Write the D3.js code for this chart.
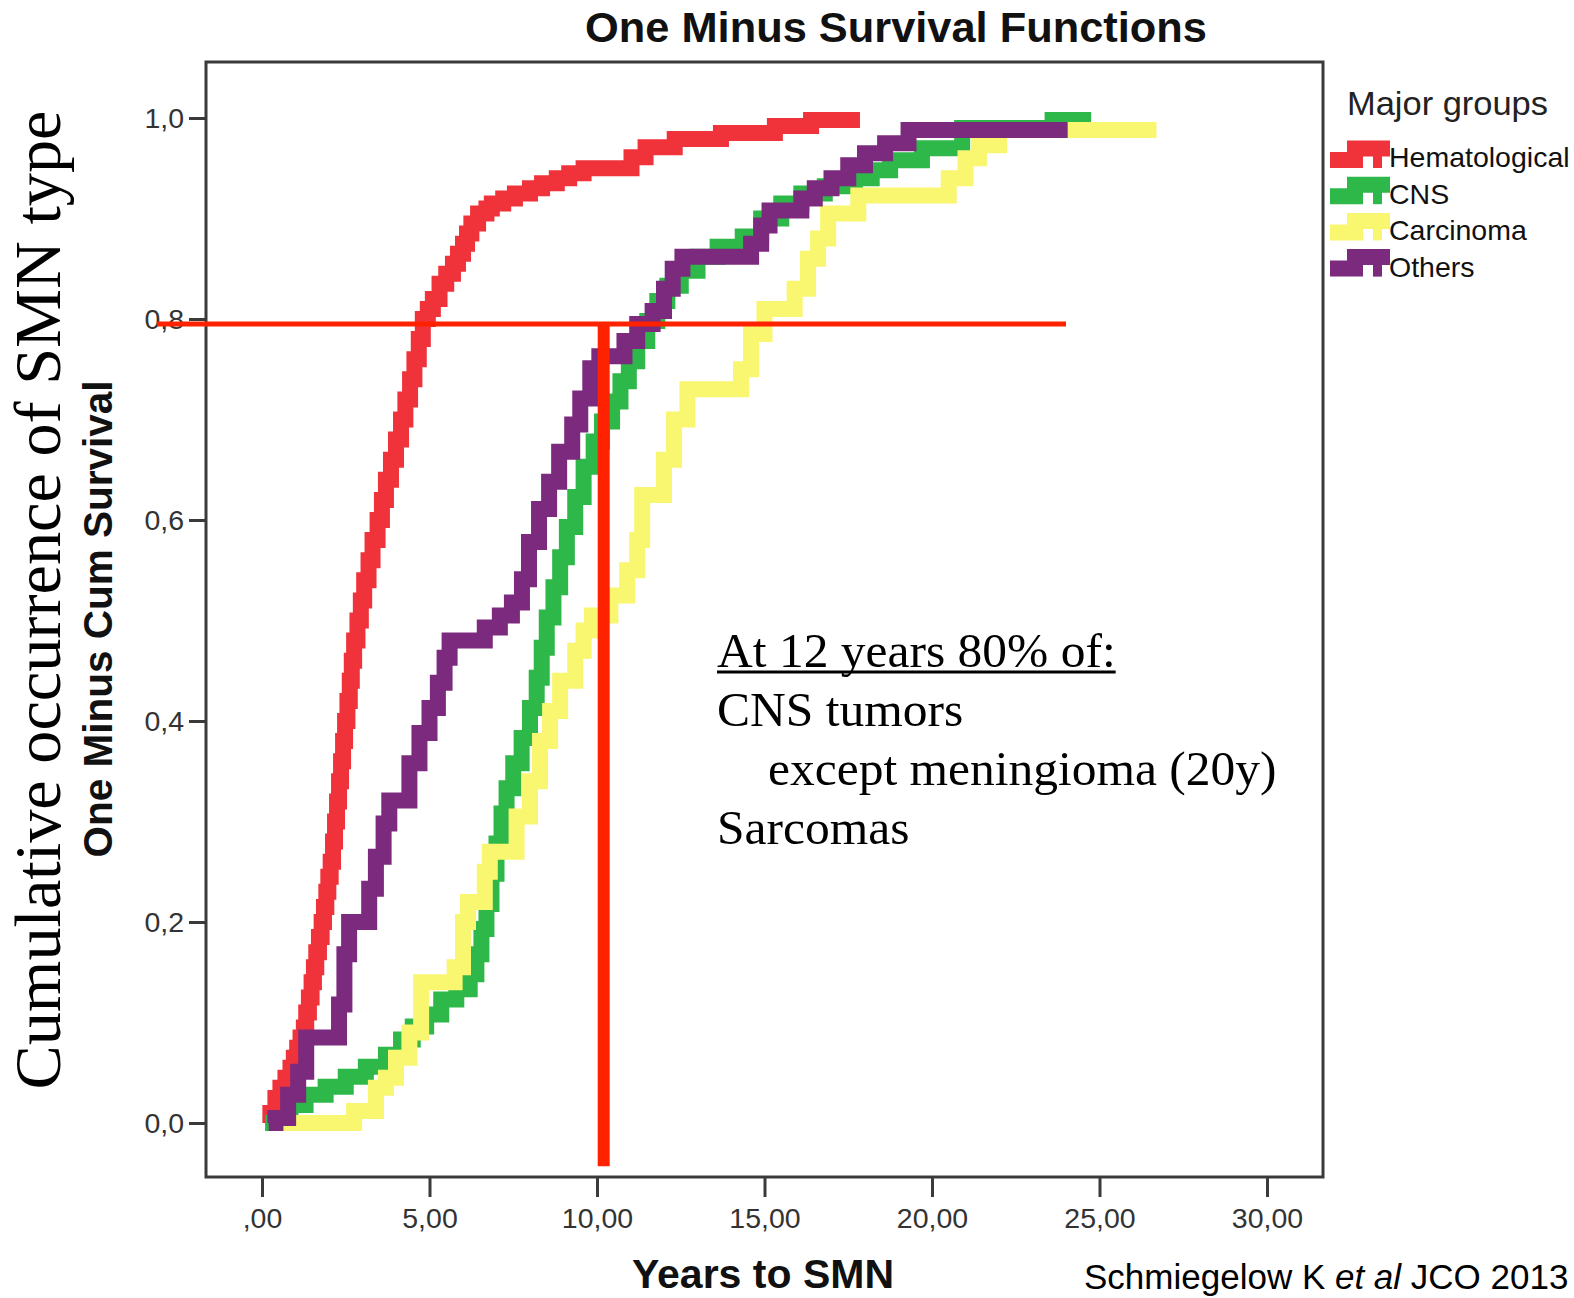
<!DOCTYPE html>
<html>
<head>
<meta charset="utf-8">
<script src="https://cdn.jsdelivr.net/npm/d3@7"></script>
<style>
  html, body { margin: 0; padding: 0; background: #fff; overflow: hidden; }
  svg { display: block; }
</style>
</head>
<body>
<svg id="chart" width="1574" height="1298"></svg>
<script>
// ---- Data: one-minus-survival step curves per major group (years, cumulative value)
const groups = ["Hematological", "CNS", "Carcinoma", "Others"];
const groupColors = ["#f0333b", "#2fb84a", "#f9f66f", "#7c2a7d"];

const hematoYears = [0.1,0.25,0.4,0.55,0.7,0.85,0.95,1.05,1.15,1.25,1.32,1.4,1.48,1.55,1.62,1.7,1.78,1.85,1.92,1.98,2.05,2.12,2.18,2.24,2.3,2.36,2.42,2.48,2.55,2.62,2.68,2.75,2.85,2.95,3.05,3.18,3.3,3.45,3.58,3.7,3.85,4.0,4.15,4.28,4.42,4.55,4.68,4.8,4.95,5.1,5.3,5.5,5.7,5.85,6.0,6.12,6.25,6.45,6.7,6.86,7.2,7.55,8.0,8.36,8.8,9.17,9.6,11.03,11.45,12.32,13.7,15.31,16.39];
const hematoValues = [0,0.01,0.025,0.035,0.045,0.055,0.065,0.075,0.085,0.095,0.11,0.125,0.14,0.155,0.17,0.185,0.2,0.215,0.23,0.245,0.26,0.28,0.3,0.32,0.34,0.36,0.38,0.4,0.42,0.44,0.46,0.48,0.5,0.52,0.54,0.56,0.58,0.6,0.62,0.64,0.66,0.68,0.7,0.72,0.74,0.76,0.78,0.8,0.81,0.82,0.835,0.845,0.855,0.865,0.875,0.885,0.895,0.905,0.91,0.915,0.92,0.925,0.93,0.935,0.94,0.945,0.95,0.961,0.971,0.979,0.985,0.992,0.998];
const hematoEnd = 17.85;

const cnsYears = [0.1,0.85,1.3,1.9,2.5,3.1,3.7,4.15,4.5,4.9,5.35,5.8,6.2,6.4,6.55,6.7,6.85,7.0,7.15,7.3,7.5,7.75,8.0,8.2,8.35,8.5,8.7,8.9,9.1,9.35,9.6,9.9,10.15,10.45,10.7,10.95,11.2,11.5,11.8,12.1,12.5,13.0,13.6,14.35,14.9,15.5,16.1,16.8,17.7,18.2,18.75,19.7,20.9,23.6];
const cnsValues = [0,0.018,0.028,0.036,0.046,0.056,0.068,0.083,0.096,0.108,0.123,0.133,0.148,0.168,0.193,0.218,0.248,0.278,0.308,0.333,0.358,0.383,0.413,0.443,0.473,0.503,0.533,0.563,0.593,0.623,0.653,0.678,0.698,0.718,0.738,0.758,0.778,0.798,0.818,0.833,0.848,0.862,0.872,0.882,0.9,0.915,0.925,0.932,0.94,0.948,0.958,0.97,0.99,0.998];
const cnsEnd = 24.75;

const carcinomaYears = [0.3,2.75,3.4,3.7,4.0,4.4,4.75,5.75,6.0,6.15,6.65,6.8,7.6,8.0,8.3,8.6,8.9,9.35,9.6,9.85,10.4,10.9,11.2,11.35,12.0,12.3,12.7,14.3,14.6,15.0,15.9,16.3,16.6,16.9,17.8,20.5,21.0,21.4,22.0];
const carcinomaValues = [0,0.012,0.035,0.045,0.065,0.09,0.14,0.155,0.2,0.22,0.25,0.27,0.305,0.34,0.38,0.41,0.44,0.47,0.49,0.505,0.525,0.55,0.58,0.625,0.66,0.7,0.73,0.75,0.785,0.81,0.83,0.86,0.88,0.905,0.923,0.94,0.96,0.973,0.988];
const carcinomaEnd = 26.7;

const othersYears = [0.2,0.4,0.78,1.08,1.32,2.3,2.46,2.6,3.2,3.4,3.63,3.8,4.4,4.7,5.0,5.25,5.45,5.6,6.65,7.1,7.46,7.76,7.97,8.27,8.57,8.87,9.26,9.5,9.8,10.07,10.82,11.2,11.66,12.0,12.26,12.55,14.6,14.9,15.15,16.1,16.5,17.0,17.5,18.0,18.6,19.3];
const othersValues = [0,0.005,0.028,0.051,0.085,0.118,0.168,0.2,0.233,0.265,0.298,0.321,0.358,0.388,0.413,0.438,0.463,0.48,0.493,0.505,0.518,0.541,0.578,0.611,0.638,0.668,0.695,0.721,0.751,0.763,0.778,0.795,0.808,0.83,0.85,0.862,0.875,0.893,0.908,0.92,0.93,0.94,0.953,0.965,0.975,0.988];
const othersEnd = 24.05;

// ---- Axis ticks
const xTicks = [0, 5, 10, 15, 20, 25, 30];
const xTickLabels = [",00", "5,00", "10,00", "15,00", "20,00", "25,00", "30,00"];
const yTicks = [0, 0.2, 0.4, 0.6, 0.8, 1.0];
const yTickLabels = ["0,0", "0,2", "0,4", "0,6", "0,8", "1,0"];

// ---- Reference guide: 80% level and ~10 years
const guideLevel = 0.795;
const guideFromYear = -3.13;
const guideToYear = 24.0;
const guideYear = 10.2;
const guideBottom = -0.043;

// ---- Annotation text
const noteLines = ["At 12 years 80% of:", "CNS tumors", "except meningioma (20y)", "Sarcomas"];

// ---- Layout
const frame = { left: 206, top: 62, right: 1323, bottom: 1177 };
const x = d3.scaleLinear().domain([0, 30]).range([262, 1267]);
const y = d3.scaleLinear().domain([0, 1]).range([1123, 118]);

const svg = d3.select("#chart");
const sans = "'Liberation Sans', Arial, sans-serif";
const serif = "'Liberation Serif', 'Times New Roman', serif";

// Plot frame
svg.append("rect")
  .attr("x", frame.left).attr("y", frame.top)
  .attr("width", frame.right - frame.left).attr("height", frame.bottom - frame.top)
  .attr("fill", "none").attr("stroke", "#3a3a3a").attr("stroke-width", 3);

// Y axis
const yAxis = svg.append("g")
  .attr("transform", `translate(${frame.left},0)`)
  .call(d3.axisLeft(y).tickValues(yTicks)
    .tickFormat((d, i) => yTickLabels[i]).tickSize(17).tickPadding(5));
yAxis.select(".domain").remove();
yAxis.selectAll(".tick line").attr("stroke", "#3a3a3a").attr("stroke-width", 3);
yAxis.selectAll(".tick text").attr("font-family", sans).attr("font-size", 28.5).attr("fill", "#333");

// X axis
const xAxis = svg.append("g")
  .attr("transform", `translate(0,${frame.bottom})`)
  .call(d3.axisBottom(x).tickValues(xTicks)
    .tickFormat((d, i) => xTickLabels[i]).tickSize(20).tickPadding(11));
xAxis.select(".domain").remove();
xAxis.selectAll(".tick line").attr("stroke", "#3a3a3a").attr("stroke-width", 3);
xAxis.selectAll(".tick text").attr("font-family", sans).attr("font-size", 28.5).attr("fill", "#333");

// Step curves
const seriesData = [
  { years: hematoYears, values: hematoValues, end: hematoEnd },
  { years: cnsYears, values: cnsValues, end: cnsEnd },
  { years: carcinomaYears, values: carcinomaValues, end: carcinomaEnd },
  { years: othersYears, values: othersValues, end: othersEnd }
];
const stepLine = d3.line()
  .x(d => x(d.t)).y(d => y(d.v))
  .curve(d3.curveStepAfter);

seriesData.forEach((s, i) => {
  const pts = s.years.map((t, j) => ({ t, v: s.values[j] }));
  pts.push({ t: s.end, v: s.values[s.values.length - 1] });
  svg.append("path")
    .datum(pts)
    .attr("d", stepLine)
    .attr("fill", "none")
    .attr("stroke", groupColors[i])
    .attr("stroke-width", 16)
    .attr("stroke-linejoin", "miter")
    .attr("stroke-linecap", "butt");
});

// Guide lines
svg.append("line")
  .attr("x1", x(guideFromYear)).attr("x2", x(guideToYear))
  .attr("y1", y(guideLevel)).attr("y2", y(guideLevel))
  .attr("stroke", "#ff2200").attr("stroke-width", 5);
svg.append("line")
  .attr("x1", x(guideYear)).attr("x2", x(guideYear))
  .attr("y1", y(guideLevel) - 2).attr("y2", y(guideBottom))
  .attr("stroke", "#ff2200").attr("stroke-width", 12);

// Titles
svg.append("text")
  .attr("x", 896).attr("y", 42)
  .attr("text-anchor", "middle")
  .attr("font-family", sans).attr("font-weight", "bold").attr("font-size", 43)
  .attr("textLength", 622).attr("lengthAdjust", "spacingAndGlyphs")
  .attr("fill", "#111")
  .text("One Minus Survival Functions");

svg.append("text")
  .attr("transform", "translate(112,619) rotate(-90)")
  .attr("text-anchor", "middle")
  .attr("font-family", sans).attr("font-weight", "bold").attr("font-size", 40.5)
  .attr("fill", "#111")
  .text("One Minus Cum Survival");

svg.append("text")
  .attr("transform", "translate(60,600) rotate(-90)")
  .attr("text-anchor", "middle")
  .attr("font-family", serif).attr("font-size", 65)
  .attr("textLength", 979).attr("lengthAdjust", "spacingAndGlyphs")
  .attr("fill", "#000")
  .text("Cumulative occurrence of SMN type");

svg.append("text")
  .attr("x", 763).attr("y", 1288)
  .attr("text-anchor", "middle")
  .attr("font-family", sans).attr("font-weight", "bold").attr("font-size", 41)
  .attr("fill", "#111")
  .text("Years to SMN");

// Citation
const cite = svg.append("text")
  .attr("x", 1084).attr("y", 1289)
  .attr("font-family", sans).attr("font-size", 35).attr("fill", "#000");
cite.append("tspan").text("Schmiegelow K ");
cite.append("tspan").attr("font-style", "italic").text("et al");
cite.append("tspan").text(" JCO 2013");

// Annotation block
const noteX = [717, 717, 768, 717];
const noteY = [667, 726, 785, 844];
noteLines.forEach((line, i) => {
  const t = svg.append("text")
    .attr("x", noteX[i]).attr("y", noteY[i])
    .attr("font-family", serif).attr("font-size", 49.5).attr("fill", "#000")
    .text(line);
  if (i === 0) {
    const w = t.node().getComputedTextLength();
    svg.append("line")
      .attr("x1", noteX[i]).attr("x2", noteX[i] + w)
      .attr("y1", noteY[i] + 5).attr("y2", noteY[i] + 5)
      .attr("stroke", "#000").attr("stroke-width", 3);
  }
});

// Legend
svg.append("text")
  .attr("x", 1347).attr("y", 115)
  .attr("font-family", sans).attr("font-size", 33)
  .attr("textLength", 201).attr("lengthAdjust", "spacingAndGlyphs")
  .attr("fill", "#222")
  .text("Major groups");

groups.forEach((g, i) => {
  const c = 148.5 + 36.2 * i;
  svg.append("path")
    .attr("d", `M1330,${c + 11.5} H1355 V${c} H1390`)
    .attr("fill", "none").attr("stroke", groupColors[i])
    .attr("stroke-width", 16).attr("stroke-linejoin", "miter");
  svg.append("line")
    .attr("x1", 1377.5).attr("x2", 1377.5)
    .attr("y1", c).attr("y2", c + 19.5)
    .attr("stroke", groupColors[i]).attr("stroke-width", 9);
  svg.append("text")
    .attr("x", 1389).attr("y", 167 + 36.5 * i)
    .attr("font-family", sans).attr("font-size", 28.5)
    .attr("fill", "#111")
    .text(g);
});
</script>
</body>
</html>
